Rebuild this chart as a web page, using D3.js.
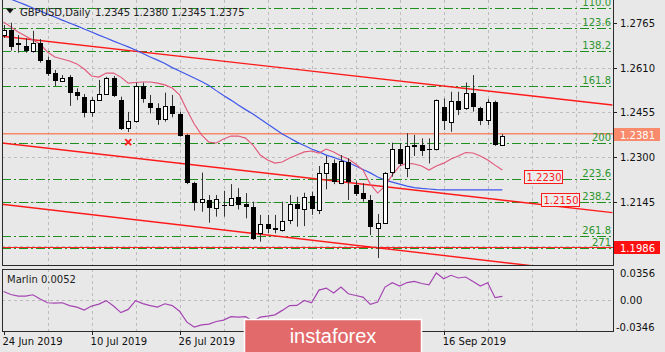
<!DOCTYPE html>
<html>
<head>
<meta charset="utf-8">
<script src="https://cdn.jsdelivr.net/npm/d3@7"></script>
<style>
  html, body { margin: 0; padding: 0; background: #e8e8e8; }
  svg { display: block; font-family: 'DejaVu Sans', sans-serif; }
</style>
</head>
<body>
<div id="chart"></div>
<script>
// ---- data ----
const symbolName = 'GBPUSD,Daily';
const lastOHLC = ['1.2345', '1.2380', '1.2345', '1.2375'];

const opens = [1.2724, 1.2742, 1.2698, 1.2686, 1.2670, 1.2698, 1.2637, 1.2593, 1.2567, 1.2579,
  1.2527, 1.2510, 1.2458, 1.2498, 1.2519, 1.2574, 1.2498, 1.2401, 1.2427, 1.2547,
  1.2489, 1.2472, 1.2433, 1.2479, 1.2450, 1.2377, 1.2211, 1.2141, 1.2151, 1.2122,
  1.2134, 1.2133, 1.2162, 1.2137, 1.2128, 1.2037, 1.2067, 1.2053, 1.2049, 1.2081,
  1.2137, 1.2119, 1.2165, 1.2119, 1.2246, 1.2281, 1.2209, 1.2284, 1.2203, 1.2174,
  1.2151, 1.2056, 1.2072, 1.2246, 1.2327, 1.2264, 1.2342, 1.2342, 1.2327, 1.2327,
  1.2473, 1.2423, 1.2496, 1.2470, 1.2522, 1.2470, 1.2431, 1.2493, 1.2345];
const highs = [1.2759, 1.2767, 1.2724, 1.2713, 1.2739, 1.2710, 1.2649, 1.2603, 1.2585, 1.2585,
  1.2539, 1.2519, 1.2508, 1.2568, 1.2579, 1.2582, 1.2510, 1.2457, 1.2559, 1.2559,
  1.2516, 1.2487, 1.2524, 1.2516, 1.2458, 1.2380, 1.2214, 1.2246, 1.2168, 1.2168,
  1.2183, 1.2206, 1.2192, 1.2175, 1.2145, 1.2099, 1.2099, 1.2099, 1.2145, 1.2168,
  1.2162, 1.2176, 1.2180, 1.2269, 1.2304, 1.2292, 1.2307, 1.2296, 1.2218, 1.2209,
  1.2168, 1.2102, 1.2248, 1.2350, 1.2348, 1.2383, 1.2377, 1.2365, 1.2365, 1.2500,
  1.2504, 1.2527, 1.2527, 1.2559, 1.2585, 1.2475, 1.2501, 1.2496, 1.2380];
const lows = [1.2714, 1.2670, 1.2663, 1.2663, 1.2663, 1.2628, 1.2582, 1.2547, 1.2562, 1.2478,
  1.2498, 1.2438, 1.2440, 1.2497, 1.2516, 1.2509, 1.2394, 1.2387, 1.2420, 1.2489,
  1.2452, 1.2412, 1.2423, 1.2438, 1.2371, 1.2206, 1.2114, 1.2110, 1.2072, 1.2093,
  1.2093, 1.2130, 1.2118, 1.2087, 1.2012, 1.2006, 1.2035, 1.2035, 1.2041, 1.2067,
  1.2058, 1.2060, 1.2099, 1.2102, 1.2188, 1.2206, 1.2206, 1.2151, 1.2165, 1.2145,
  1.2029, 1.1949, 1.2069, 1.2232, 1.2269, 1.2230, 1.2304, 1.2304, 1.2278, 1.2323,
  1.2394, 1.2388, 1.2446, 1.2464, 1.2458, 1.2411, 1.2411, 1.2339, 1.2345];
const closes = [1.2742, 1.2684, 1.2692, 1.2670, 1.2698, 1.2637, 1.2589, 1.2566, 1.2576, 1.2524,
  1.2512, 1.2454, 1.2498, 1.2519, 1.2574, 1.2510, 1.2398, 1.2427, 1.2547, 1.2501,
  1.2472, 1.2431, 1.2479, 1.2450, 1.2373, 1.2209, 1.2141, 1.2153, 1.2122, 1.2153,
  1.2131, 1.2157, 1.2133, 1.2125, 1.2018, 1.2067, 1.2049, 1.2047, 1.2079, 1.2137,
  1.2119, 1.2162, 1.2119, 1.2246, 1.2281, 1.2214, 1.2287, 1.2214, 1.2172, 1.2153,
  1.2058, 1.2072, 1.2246, 1.2327, 1.2276, 1.2339, 1.2336, 1.2322, 1.2322, 1.2498,
  1.2423, 1.2496, 1.2466, 1.2522, 1.2473, 1.2426, 1.2493, 1.2342, 1.2375];

// fast (pink) and slow (blue) moving averages, one value per bar
const maFast = [1.2770, 1.2752, 1.2735, 1.2721, 1.2707, 1.2693, 1.2665, 1.2648, 1.2641, 1.2634,
  1.2624, 1.2606, 1.2582, 1.2578, 1.2592, 1.2592, 1.2578, 1.2557, 1.2559, 1.2561,
  1.2561, 1.2557, 1.2551, 1.2540, 1.2516, 1.2464, 1.2415, 1.2377, 1.2352, 1.2349,
  1.2363, 1.2373, 1.2373, 1.2366, 1.2342, 1.2307, 1.2290, 1.2279, 1.2283, 1.2297,
  1.2307, 1.2318, 1.2321, 1.2314, 1.2328, 1.2318, 1.2304, 1.2293, 1.2276, 1.2255,
  1.2206, 1.2175, 1.2199, 1.2238, 1.2269, 1.2279, 1.2276, 1.2269, 1.2255, 1.2269,
  1.2279, 1.2293, 1.2304, 1.2316, 1.2314, 1.2304, 1.2290, 1.2272, 1.2255];
const maSlow = [1.2860, 1.2849, 1.2839, 1.2829, 1.2818, 1.2808, 1.2797, 1.2787, 1.2776, 1.2766,
  1.2756, 1.2745, 1.2735, 1.2724, 1.2714, 1.2703, 1.2693, 1.2683, 1.2672, 1.2660,
  1.2648, 1.2637, 1.2625, 1.2611, 1.2599, 1.2587, 1.2575, 1.2563, 1.2549, 1.2531,
  1.2514, 1.2498, 1.2481, 1.2465, 1.2450, 1.2432, 1.2415, 1.2398, 1.2380, 1.2366,
  1.2352, 1.2340, 1.2328, 1.2318, 1.2307, 1.2299, 1.2290, 1.2281, 1.2269, 1.2257,
  1.2245, 1.2231, 1.2220, 1.2213, 1.2206, 1.2199, 1.2194, 1.2191, 1.2189, 1.2187,
  1.2186, 1.2186, 1.2186, 1.2186, 1.2186, 1.2186, 1.2186, 1.2186, 1.2186];

// Marlin oscillator
const marlin = [0.0115, 0.0076, 0.0056, 0.0056, 0.0073, 0.0017, -0.0031, -0.0035, -0.0031, -0.0068,
  -0.0087, -0.0126, -0.0074, -0.0048, -0.0003, -0.0074, -0.0159, -0.0117, -0.0003, -0.0042,
  -0.0068, -0.0087, -0.0044, -0.0068, -0.0140, -0.0283, -0.0346, -0.0318, -0.0309, -0.0274,
  -0.0257, -0.0211, -0.0218, -0.0211, -0.0270, -0.0218, -0.0205, -0.0188, -0.0130, -0.0068,
  -0.0065, 0.0000, -0.0031, 0.0134, 0.0160, 0.0095, 0.0173, 0.0086, 0.0063, 0.0043,
  -0.0052, -0.0022, 0.0173, 0.0229, 0.0186, 0.0232, 0.0248, 0.0219, 0.0203, 0.0356,
  0.0282, 0.0326, 0.0291, 0.0304, 0.0245, 0.0186, 0.0229, 0.0035, 0.0052];
const marlinTicks = [0.0356, 0, -0.0346];
const marlinTickLabels = ['0.0356', '0.00', '-0.0346'];

// Fibonacci expansion levels
const fibLabels = ['110.0', '123.6', '138.2', '161.8', '200', '223.6', '238.2', '261.8', '271'];
const fibPrices = [1.2819, 1.2748, 1.2670, 1.2547, 1.2348, 1.2224, 1.2145, 1.2027, 1.1983];

// trend lines (bar index / price at both ends)
const trendStartBar = [-0.5, -0.5, -0.5];
const trendStartPrice = [1.2721, 1.2350, 1.2137];
const trendEndBar = [83, 83, 72.5];
const trendEndPrice = [1.2481, 1.2107, 1.1921];

// horizontal lines with their price tags on the axis
const hLinePrices = [1.2381, 1.1986];
// price tags drawn inside the chart
const tagPrices = [1.2230, 1.2150];
const tagBars = [70.9, 73.3];
const markerBar = 17;
const markerPrice = 1.2352;

const priceTicks = [1.2765, 1.2610, 1.2455, 1.2300, 1.2145, 1.1990];
// the two August labels sit under the watermark, so only the visible ones are drawn
const dateLabels = ['24 Jun 2019', '10 Jul 2019', '26 Jul 2019', '16 Sep 2019'];
const dateBars = [0, 12, 24, 60];

// ---- layout ----
const W = 665, H = 352;
const L = 2, R = 613;
const mainTop = 0, mainBottom = 265;
const indTop = 269, indBottom = 331;

const x = d3.scaleLinear().domain([0, 83]).range([3.5, 612.4]);
const y = d3.scaleLinear().domain([1.2846, 1.19249]).range([mainTop, mainBottom]);
const yInd = d3.scaleLinear().domain([0.0356, -0.0346]).range([273, 327]);
const px = (v) => Math.round(v) + 0.5;

const svg = d3.select('#chart').append('svg').attr('width', W).attr('height', H);
svg.append('rect').attr('width', W).attr('height', H).attr('fill', '#e8e8e8');

const defs = svg.append('defs');
defs.append('clipPath').attr('id', 'clipMain')
  .append('rect').attr('x', L).attr('y', mainTop).attr('width', R - L).attr('height', mainBottom - mainTop);
defs.append('clipPath').attr('id', 'clipInd')
  .append('rect').attr('x', L).attr('y', indTop).attr('width', R - L).attr('height', indBottom - indTop);

const gridBars = d3.range(6, 84, 6);
const gridColor = '#bdbdbd';

// ---- main panel ----
const main = svg.append('g').attr('clip-path', 'url(#clipMain)');

main.append('g').selectAll('line').data(gridBars).join('line')
  .attr('x1', (d) => px(x(d))).attr('x2', (d) => px(x(d)))
  .attr('y1', mainTop).attr('y2', mainBottom)
  .attr('stroke', gridColor).attr('stroke-dasharray', '3,3');
main.append('g').selectAll('line').data(priceTicks).join('line')
  .attr('x1', L).attr('x2', R)
  .attr('y1', (d) => px(y(d))).attr('y2', (d) => px(y(d)))
  .attr('stroke', gridColor).attr('stroke-dasharray', '3,3');

// fibo levels
main.append('g').selectAll('line').data(fibPrices).join('line')
  .attr('x1', L).attr('x2', R)
  .attr('y1', (d) => px(y(d))).attr('y2', (d) => px(y(d)))
  .attr('stroke', '#1f8f1f').attr('stroke-dasharray', '9,3,2,3');

// horizontal lines
main.append('line')
  .attr('x1', L).attr('x2', R).attr('y1', y(hLinePrices[0])).attr('y2', y(hLinePrices[0]))
  .attr('stroke', '#f7876b').attr('stroke-width', 1.6);
main.append('line')
  .attr('x1', L).attr('x2', R).attr('y1', px(y(hLinePrices[1]))).attr('y2', px(y(hLinePrices[1])))
  .attr('stroke', '#ff2020').attr('stroke-width', 1);

// trend lines
main.append('g').selectAll('line').data(trendStartBar).join('line')
  .attr('x1', (d) => x(d)).attr('y1', (d, i) => y(trendStartPrice[i]))
  .attr('x2', (d, i) => x(trendEndBar[i])).attr('y2', (d, i) => y(trendEndPrice[i]))
  .attr('stroke', '#ff1a1a').attr('stroke-width', 1.4);

// moving averages
const maLine = (arr) => d3.line().x((d, i) => x(i)).y((d) => y(d))(arr);
main.append('path').attr('d', maLine(maSlow)).attr('fill', 'none')
  .attr('stroke', '#3f57ea').attr('stroke-width', 1.2);
main.append('path').attr('d', maLine(maFast)).attr('fill', 'none')
  .attr('stroke', '#e2577a').attr('stroke-width', 1.1);

// candles
const candles = main.append('g').selectAll('g').data(d3.range(opens.length)).join('g');
candles.append('line')
  .attr('x1', (i) => px(x(i))).attr('x2', (i) => px(x(i)))
  .attr('y1', (i) => y(highs[i])).attr('y2', (i) => y(lows[i]))
  .attr('stroke', '#333');
candles.append('rect')
  .attr('x', (i) => {
    const cx = Math.round(x(i));
    return closes[i] >= opens[i] ? cx - 1.5 : cx - 2;
  })
  .attr('width', (i) => (closes[i] >= opens[i] ? 4 : 5))
  .attr('y', (i) => Math.round(y(Math.max(opens[i], closes[i]))) + (closes[i] >= opens[i] ? 0.5 : 0))
  .attr('height', (i) => Math.max(1, Math.round(Math.abs(y(opens[i]) - y(closes[i])))))
  .attr('fill', (i) => (closes[i] >= opens[i] ? '#fff' : '#000'))
  .attr('stroke', (i) => (closes[i] >= opens[i] ? '#000' : 'none'));

// fibo labels
main.append('g').selectAll('text').data(fibLabels).join('text')
  .attr('x', 611).attr('y', (d, i) => y(fibPrices[i]) - 2)
  .attr('text-anchor', 'end').attr('font-size', 10).attr('fill', '#2c962c')
  .text((d) => d);

// price tags inside chart
const tags = main.append('g').selectAll('g').data(tagPrices).join('g')
  .attr('transform', (d, i) => `translate(${Math.round(x(tagBars[i]))},${Math.round(y(d))})`);
tags.append('rect').attr('x', 0.5).attr('y', -6.5).attr('width', 38).attr('height', 13)
  .attr('fill', '#ececec').attr('stroke', '#ff1a1a');
tags.append('text').attr('x', 2.5).attr('y', 4).attr('font-size', 10).attr('fill', '#ff1a1a')
  .text((d) => d.toFixed(4));

// cross marker
const mx = x(markerBar), my = y(markerPrice);
main.append('path')
  .attr('d', `M${mx - 3},${my - 3}L${mx + 3},${my + 3}M${mx + 3},${my - 3}L${mx - 3},${my + 3}`)
  .attr('stroke', '#ff2020').attr('stroke-width', 2);

// title
svg.append('path').attr('d', 'M6,8.5L14,8.5L10,13.5Z').attr('fill', '#111');
svg.append('text').attr('x', 20).attr('y', 16).attr('font-size', 10).attr('fill', '#222').text(symbolName);
svg.append('text').attr('x', 95).attr('y', 16).attr('font-size', 10).attr('fill', '#222')
  .text(lastOHLC.join(' '));

// right price axis
svg.append('g').selectAll('line').data(priceTicks).join('line')
  .attr('x1', R).attr('x2', R + 4)
  .attr('y1', (d) => px(y(d))).attr('y2', (d) => px(y(d)))
  .attr('stroke', '#222');
svg.append('g').selectAll('text').data(priceTicks).join('text')
  .attr('x', 620).attr('y', (d) => y(d) + 4)
  .attr('font-size', 10).attr('fill', '#111')
  .text((d) => d.toFixed(4));

// axis price boxes for horizontal lines
const boxColors = ['#f98a6b', '#ff1010'];
const boxes = svg.append('g').selectAll('g').data(hLinePrices).join('g')
  .attr('transform', (d) => `translate(${R},${Math.round(y(d))})`);
boxes.append('rect').attr('x', 1).attr('y', -6).attr('width', 46).attr('height', 13)
  .attr('fill', (d, i) => boxColors[i]);
boxes.append('text').attr('x', 7).attr('y', 4.5).attr('font-size', 10).attr('fill', '#fff')
  .text((d) => d.toFixed(4));

// ---- indicator panel ----
const ind = svg.append('g').attr('clip-path', 'url(#clipInd)');
ind.append('g').selectAll('line').data(gridBars).join('line')
  .attr('x1', (d) => px(x(d))).attr('x2', (d) => px(x(d)))
  .attr('y1', indTop).attr('y2', indBottom)
  .attr('stroke', gridColor).attr('stroke-dasharray', '3,3');
ind.append('line').attr('x1', L).attr('x2', R).attr('y1', px(yInd(0))).attr('y2', px(yInd(0)))
  .attr('stroke', gridColor).attr('stroke-dasharray', '3,3');
ind.append('path')
  .attr('d', d3.line().x((d, i) => x(i)).y((d) => yInd(d))(marlin))
  .attr('fill', 'none').attr('stroke', '#a445b2').attr('stroke-width', 1.2);

svg.append('text').attr('x', 7).attr('y', 283).attr('font-size', 10).attr('fill', '#222')
  .text(`Marlin ${marlin[marlin.length - 1].toFixed(4)}`);

svg.append('g').selectAll('text').data(marlinTicks).join('text')
  .attr('x', (d) => (d < 0 ? 616 : 620)).attr('y', (d) => yInd(d) + 4)
  .attr('font-size', 10).attr('fill', '#111')
  .text((d, i) => marlinTickLabels[i]);

// panel frames
const frame = svg.append('g').attr('fill', 'none').attr('stroke', '#2a2a2a');
frame.append('rect').attr('x', L + 0.5).attr('y', mainTop - 1).attr('width', R - L).attr('height', mainBottom - mainTop + 1.5);
frame.append('rect').attr('x', L + 0.5).attr('y', indTop + 0.5).attr('width', R - L).attr('height', indBottom - indTop);

// time axis
svg.append('g').selectAll('line').data(dateBars).join('line')
  .attr('x1', (d) => px(x(d))).attr('x2', (d) => px(x(d)))
  .attr('y1', indBottom).attr('y2', indBottom + 4)
  .attr('stroke', '#222');
svg.append('g').selectAll('text').data(dateLabels).join('text')
  .attr('x', (d, i) => x(dateBars[i]) - 1).attr('y', 345)
  .attr('font-size', 10).attr('fill', '#111')
  .text((d) => d);

// watermark logo
svg.append('rect').attr('x', 244.5).attr('y', 319.5).attr('width', 177).attr('height', 40)
  .attr('fill', '#e26a6a').attr('stroke', '#fff').attr('stroke-width', 1.5);
svg.append('text').attr('x', 333).attr('y', 343).attr('text-anchor', 'middle')
  .attr('font-family', "'Liberation Sans', Arial, sans-serif").attr('font-size', 20)
  .attr('fill', '#fff').text('instaforex');
</script>
</body>
</html>
